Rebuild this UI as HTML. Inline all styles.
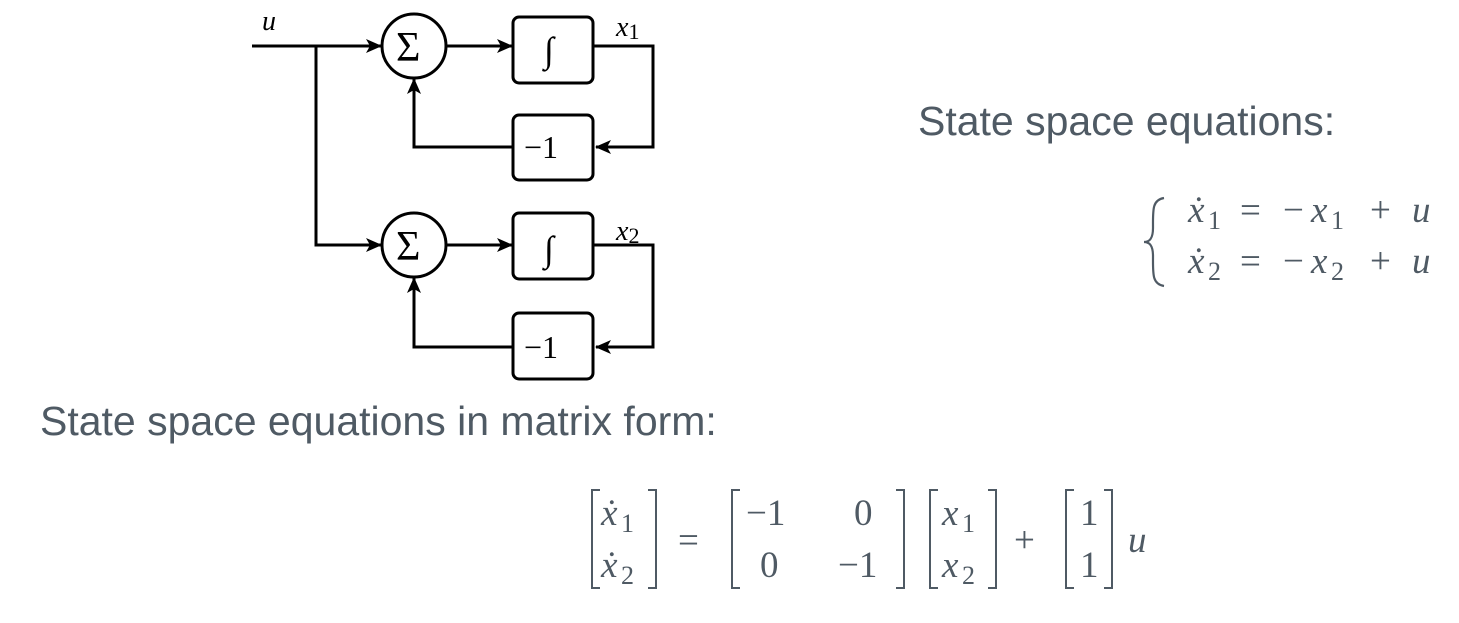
<!DOCTYPE html>
<html><head><meta charset="utf-8"><style>
body{margin:0;background:#fff;width:1459px;height:623px;overflow:hidden}
svg{position:absolute;left:0;top:0}
.sans{font-family:"Liberation Sans",sans-serif;fill:#4f5a64}
.m{font-family:"Liberation Serif",serif;fill:#4f5a64;font-size:37px}
.s{font-family:"Liberation Serif",serif;fill:#4f5a64;font-size:26px}
.i{font-style:italic}
.d{font-family:"Liberation Serif",serif;fill:#000}
</style></head><body>
<svg width="1459" height="623" viewBox="0 0 1459 623">
<defs><marker id="ar" markerWidth="16" markerHeight="14" refX="15" refY="7" orient="auto" markerUnits="userSpaceOnUse"><path d="M0,0 L16,7 L0,14 L4,7 Z" fill="#000"/></marker></defs>
<g stroke="#000" stroke-width="3" fill="none">
<line x1="252" y1="46" x2="381" y2="46" marker-end="url(#ar)"/>
<polyline points="316,46 316,245 381,245" marker-end="url(#ar)"/>
<g>
<circle cx="414" cy="46" r="32"/>
<line x1="446" y1="46" x2="512" y2="46" marker-end="url(#ar)"/>
<rect x="513" y="17" width="80" height="66" rx="6"/>
<polyline points="593,46 653,46 653,147 596,147" marker-end="url(#ar)"/>
<rect x="513" y="115" width="80" height="65" rx="6"/>
<polyline points="513,147 414,147 414,79" marker-end="url(#ar)"/>
</g>
<g>
<circle cx="414" cy="245" r="32"/>
<line x1="446" y1="245" x2="512" y2="245" marker-end="url(#ar)"/>
<rect x="513" y="213" width="80" height="66" rx="6"/>
<polyline points="593,245 653,245 653,347 596,347" marker-end="url(#ar)"/>
<rect x="513" y="313" width="80" height="66" rx="6"/>
<polyline points="513,347 414,347 414,278" marker-end="url(#ar)"/>
</g>
</g>
<g class="d" font-size="32">
<text x="262" y="30" class="i" font-size="28">u</text>
<text x="396" y="61" font-size="42">Σ</text>
<text x="396" y="260" font-size="42">Σ</text>
<text x="544" y="62" class="i" font-size="36">∫</text>
<text x="544" y="261" class="i" font-size="36">∫</text>
<text x="524" y="158">−1</text>
<text x="524" y="358">−1</text>
<text x="616" y="36" font-size="28"><tspan class="i">x</tspan><tspan font-size="22" dy="3">1</tspan></text>
<text x="616" y="240" font-size="28"><tspan class="i">x</tspan><tspan font-size="22" dy="3">2</tspan></text>
</g>
<text x="918" y="135" class="sans" font-size="41">State space equations:</text>
<text x="40" y="435" class="sans" font-size="41">State space equations in matrix form:</text>
<g>
<path d="M1164,198 C1152,200 1153,210 1153,228 C1153,238 1150,242 1144,242 C1150,242 1153,246 1153,256 C1153,274 1152,284 1164,286" fill="none" stroke="#4f5a64" stroke-width="2.2"/>
<g>
<text x="1188" y="222" class="m i">ẋ</text><text x="1208" y="229" class="s">1</text>
<text x="1240" y="222" class="m">=</text><text x="1283" y="222" class="m">−</text>
<text x="1311" y="222" class="m i">x</text><text x="1331" y="229" class="s">1</text>
<text x="1370" y="222" class="m">+</text><text x="1412" y="222" class="m i">u</text>
</g>
<g>
<text x="1188" y="273" class="m i">ẋ</text><text x="1208" y="280" class="s">2</text>
<text x="1240" y="273" class="m">=</text><text x="1283" y="273" class="m">−</text>
<text x="1311" y="273" class="m i">x</text><text x="1331" y="280" class="s">2</text>
<text x="1370" y="273" class="m">+</text><text x="1412" y="273" class="m i">u</text>
</g>
</g>
<g>
<g stroke="#4f5a64" stroke-width="2" fill="none">
<polyline points="600,490 592,490 592,588 600,588"/><polyline points="648,490 656,490 656,588 648,588"/>
<polyline points="740,490 732,490 732,588 740,588"/><polyline points="896,490 904,490 904,588 896,588"/>
<polyline points="938,490 930,490 930,588 938,588"/><polyline points="988,490 996,490 996,588 988,588"/>
<polyline points="1074,490 1066,490 1066,588 1074,588"/><polyline points="1104,490 1112,490 1112,588 1104,588"/>
</g>
<text x="601" y="525" class="m i">ẋ</text><text x="621" y="532" class="s">1</text>
<text x="601" y="577" class="m i">ẋ</text><text x="621" y="584" class="s">2</text>
<text x="678" y="552" class="m" font-size="40">=</text>
<text x="746" y="525" class="m">−1</text><text x="854" y="525" class="m">0</text>
<text x="760" y="577" class="m">0</text><text x="838" y="577" class="m">−1</text>
<text x="942" y="525" class="m i">x</text><text x="962" y="532" class="s">1</text>
<text x="942" y="577" class="m i">x</text><text x="962" y="584" class="s">2</text>
<text x="1014" y="552" class="m" font-size="40">+</text>
<text x="1080" y="525" class="m">1</text><text x="1080" y="577" class="m">1</text>
<text x="1128" y="552" class="m i">u</text>
</g>
</svg>
</body></html>
